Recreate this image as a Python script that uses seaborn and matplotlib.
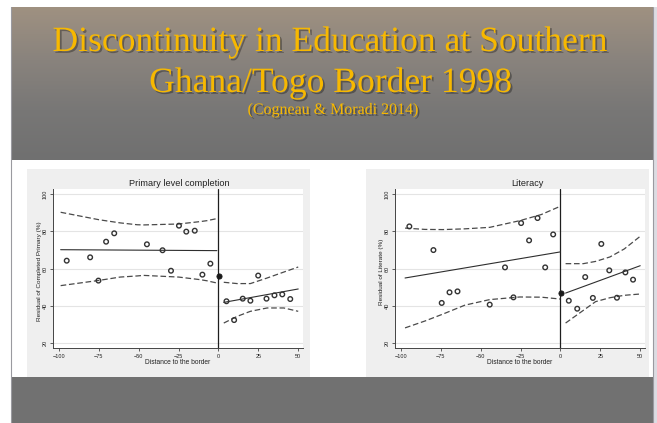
import numpy as np
import pandas as pd
import matplotlib
matplotlib.use("Agg")
import matplotlib.pyplot as plt
import matplotlib.patheffects as pe
from matplotlib.patches import Rectangle
import seaborn as sns

# ---------------- data ----------------
title_lines = ["Discontinuity in Education at Southern", "Ghana/Togo Border 1998"]
subtitle = "(Cogneau & Moradi 2014)"

x_ticks = [-100, -75, -50, -25, 0, 25, 50]
y_ticks = [20, 40, 60, 80, 100]

# Primary level completion
prim_x = [-95.2, -80.5, -75.3, -70.5, -65.4, -44.9, -35.1, -29.8, -24.8, -20.2, -14.9, -10.1, -5.1,
          5.0, 9.8, 15.2, 20.0, 24.9, 30.1, 35.1, 40.0, 45.0]
prim_y = [64.2, 66.0, 53.5, 74.4, 78.9, 73.0, 69.8, 58.8, 83.0, 79.8, 80.3, 56.7, 62.6,
          42.4, 32.3, 43.8, 42.7, 56.2, 43.8, 45.6, 46.1, 43.6]
prim_border_x = [0.4]
prim_border_y = [55.8]
prim_fit_left_x = [-99, -1]
prim_fit_left_y = [70.1, 69.6]
prim_ci_left_x = [-99, -75, -61.7, -51, -47, -25, -11.4, -7.2, -1]
prim_ci_left_up = [90.2, 86.2, 84.5, 83.5, 83.4, 83.9, 85.2, 85.7, 86.8]
prim_ci_left_lo = [50.8, 53.6, 55.4, 56.0, 56.3, 55.4, 54.0, 53.4, 52.2]
prim_fit_right_x = [3.3, 50]
prim_fit_right_y = [41.8, 49.0]
prim_ci_right_x = [3.3, 11.7, 20, 30.5, 41, 50]
prim_ci_right_up = [52.6, 51.9, 51.9, 54.9, 58.1, 60.8]
prim_ci_right_lo = [30.7, 34.3, 37.0, 38.8, 38.8, 37.0]

# Literacy
lit_x = [-94.8, -79.7, -74.5, -69.6, -64.6, -44.4, -34.8, -29.5, -24.7, -19.7, -14.4, -9.6, -4.6,
         5.2, 10.5, 15.5, 20.3, 25.6, 30.6, 35.4, 40.7, 45.5]
lit_y = [82.6, 69.9, 41.5, 47.2, 47.7, 40.6, 60.6, 44.5, 84.4, 75.1, 87.1, 60.6, 78.3,
         42.7, 38.4, 55.4, 44.2, 73.2, 59.0, 44.3, 57.9, 54.0]
lit_border_x = [0.6]
lit_border_y = [46.7]
lit_fit_left_x = [-97.5, -0.2]
lit_fit_left_y = [54.9, 68.9]
lit_ci_left_x = [-97.5, -85, -73.8, -60, -44.4, -25.5, -12, -0.2]
lit_ci_left_up = [81.7, 81.0, 80.9, 81.3, 82.1, 85.7, 89.0, 93.4]
lit_ci_left_lo = [28.1, 31.8, 35.5, 40.3, 43.3, 44.7, 44.6, 43.6]
lit_fit_right_x = [3.2, 50]
lit_fit_right_y = [46.8, 61.5]
lit_ci_right_x = [3.2, 14.3, 22, 31, 40, 50]
lit_ci_right_up = [62.6, 62.6, 63.8, 66.2, 70.5, 77.3]
lit_ci_right_lo = [30.7, 37.5, 42.2, 44.3, 45.6, 46.3]

# ---------------- figure ----------------
sns.set_style("white")
plt.rcParams["font.family"] = ["Liberation Sans", "DejaVu Sans"]

W, H = 657, 423
fig = plt.figure(figsize=(W / 100, H / 100), dpi=100)
fig.patch.set_facecolor("white")

bg = fig.add_axes([0, 0, 1, 1])
bg.set_xlim(0, W)
bg.set_ylim(H, 0)
bg.axis("off")

# header gradient
rows = np.arange(7, 161)
stops_y = [7, 60, 110, 160]
stops_c = np.array([[159, 145, 129], [137, 131, 125], [120, 119, 118], [112, 112, 112]]) / 255.0
grad = np.stack([np.interp(rows, stops_y, stops_c[:, k]) for k in range(3)], axis=1)
grad = np.repeat(grad[:, None, :], 2, axis=1)
bg.imshow(grad, extent=[11, 653, 160, 7], aspect="auto", origin="upper", zorder=0)

bg.add_patch(Rectangle((11, 160), 642, 217, facecolor="white", edgecolor="none", zorder=1))
bg.add_patch(Rectangle((11, 377), 642, 46, facecolor="#717171", edgecolor="none", zorder=1))
bg.add_patch(Rectangle((27, 169), 283, 208, facecolor="#efefef", edgecolor="none", zorder=2))
bg.add_patch(Rectangle((366, 169), 283, 208, facecolor="#efefef", edgecolor="none", zorder=2))
bg.plot([11, 11], [7, 423], color="#9a9aa0", lw=0.8, zorder=3)
bg.plot([653, 653], [7, 423], color="#9a9aa0", lw=0.8, zorder=3)
bg.add_patch(Rectangle((653.5, 7), 4, 416, facecolor="#dcdce2", edgecolor="none", zorder=2))

gold = "#f7b800"
shadow = [pe.SimplePatchShadow(offset=(1.3, -1.3), shadow_rgbFace="black", alpha=0.32), pe.Normal()]
bg.text(329.5, 51, title_lines[0], family="Liberation Serif", fontsize=25.6, color=gold,
        ha="center", va="baseline", path_effects=shadow, zorder=5)
bg.text(330.5, 92, title_lines[1], family="Liberation Serif", fontsize=25.6, color=gold,
        ha="center", va="baseline", path_effects=shadow, zorder=5)
bg.text(333, 114, subtitle, family="Liberation Serif", fontsize=11.5, color=gold,
        ha="center", va="baseline", path_effects=shadow, zorder=5)

line_c = "#2e2e2e"
ci_c = "#4a4a4a"
dash = (0, (4.5, 2.2))


def make_panel(left_px, title, title_cx, ylabel, px, py, bx, by,
               flx, fly, clx, clu, cll, frx, fry, crx, cru, crl):
    ax_l, ax_r, ax_t, ax_b = left_px, left_px + 250, 189, 348
    ax = fig.add_axes([ax_l / W, 1 - ax_b / H, (ax_r - ax_l) / W, (ax_b - ax_t) / H])
    ax.set_facecolor("white")
    ax.set_xlim(-103.8, 53.0)
    ax.set_ylim(17.3, 102.7)
    ax.set_xticks(x_ticks)
    ax.set_yticks(y_ticks)
    ax.yaxis.grid(True, color="#e4e4e4", lw=0.8)
    ax.xaxis.grid(False)
    ax.set_axisbelow(True)
    for s in ["top", "right"]:
        ax.spines[s].set_visible(False)
    for s in ["left", "bottom"]:
        ax.spines[s].set_color("#444444")
        ax.spines[s].set_linewidth(0.7)
    ax.tick_params(axis="both", direction="out", length=2.5, width=0.6, color="#444444",
                   labelsize=4, labelcolor="#222222", pad=1.5, left=True, bottom=True)
    for lbl in ax.get_yticklabels():
        lbl.set_rotation(90)
        lbl.set_va("center")

    ax.axvline(0, color="#1e1e1e", lw=0.9, zorder=2)

    sns.lineplot(x=clx, y=clu, ax=ax, color=ci_c, lw=0.9, linestyle=dash, estimator=None, zorder=3)
    sns.lineplot(x=clx, y=cll, ax=ax, color=ci_c, lw=0.9, linestyle=dash, estimator=None, zorder=3)
    sns.lineplot(x=crx, y=cru, ax=ax, color=ci_c, lw=0.9, linestyle=dash, estimator=None, zorder=3)
    sns.lineplot(x=crx, y=crl, ax=ax, color=ci_c, lw=0.9, linestyle=dash, estimator=None, zorder=3)
    sns.lineplot(x=flx, y=fly, ax=ax, color=line_c, lw=0.8, estimator=None, zorder=3)
    sns.lineplot(x=frx, y=fry, ax=ax, color=line_c, lw=0.8, estimator=None, zorder=3)

    sns.scatterplot(x=px, y=py, ax=ax, marker="o", s=11, facecolor="none",
                    edgecolor="#333333", linewidth=1.0, zorder=4)
    sns.scatterplot(x=bx, y=by, ax=ax, marker="o", s=14, color="#1a1a1a",
                    edgecolor="#1a1a1a", linewidth=0.6, zorder=4)

    ax.set_xlabel("Distance to the border", fontsize=4.8, color="#222222")
    ax.xaxis.set_label_coords(0.5, -14 / 159)
    ax.xaxis.label.set_va("center")
    ax.set_ylabel(ylabel, fontsize=4.6, color="#222222")
    ax.yaxis.set_label_coords(-14 / 250, 0.5 - 3 / 159)
    ax.yaxis.label.set_va("center")

    bg.text(title_cx, 183, title, fontsize=6.6, color="#222222", ha="center", va="center", zorder=6)
    return ax


make_panel(53, "Primary level completion", 179, "Residual of Completed Primary (%)",
           prim_x, prim_y, prim_border_x, prim_border_y,
           prim_fit_left_x, prim_fit_left_y, prim_ci_left_x, prim_ci_left_up, prim_ci_left_lo,
           prim_fit_right_x, prim_fit_right_y, prim_ci_right_x, prim_ci_right_up, prim_ci_right_lo)

make_panel(395, "Literacy", 527, "Residual of Literate (%)",
           lit_x, lit_y, lit_border_x, lit_border_y,
           lit_fit_left_x, lit_fit_left_y, lit_ci_left_x, lit_ci_left_up, lit_ci_left_lo,
           lit_fit_right_x, lit_fit_right_y, lit_ci_right_x, lit_ci_right_up, lit_ci_right_lo)

fig.savefig("out.png", dpi=100)
